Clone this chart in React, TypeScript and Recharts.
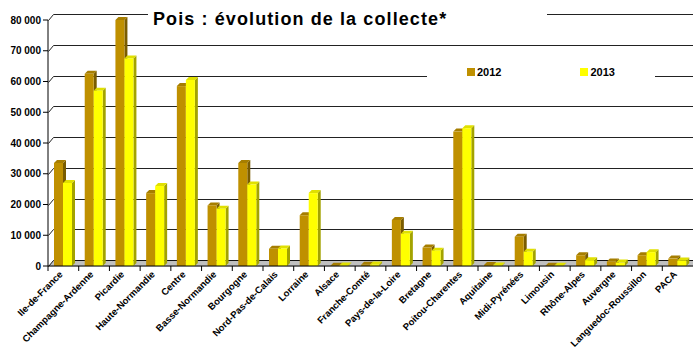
import React from "react";
import { Bar, BarChart, CartesianGrid, XAxis, YAxis } from "recharts";

const regions = [
  "Ile-de-France",
  "Champagne-Ardenne",
  "Picardie",
  "Haute-Normandie",
  "Centre",
  "Basse-Normandie",
  "Bourgogne",
  "Nord-Pas-de-Calais",
  "Lorraine",
  "Alsace",
  "Franche-Comté",
  "Pays-de-la-Loire",
  "Bretagne",
  "Poitou-Charentes",
  "Aquitaine",
  "Midi-Pyrénées",
  "Limousin",
  "Rhône-Alpes",
  "Auvergne",
  "Languedoc-Roussillon",
  "PACA",
];

const values2012 = [
  33500, 62500, 80000, 23700, 58500, 19700, 33500, 5600, 16500, 100, 400,
  15000, 6000, 43700, 300, 9500, 100, 3500, 1500, 3500, 2400,
];
const values2013 = [
  27000, 57000, 67500, 26000, 60500, 18600, 26500, 5700, 23700, 200, 500,
  10500, 5000, 44800, 200, 4600, 100, 1900, 1100, 4500, 1800,
];

const yTicks = [0, 10000, 20000, 30000, 40000, 50000, 60000, 70000, 80000];

const series = [
  { key: "y2012", name: "2012", front: "#BF9000", side: "#7A5C00", top: "#A67E00" },
  { key: "y2013", name: "2013", front: "#FFFF00", side: "#A3A300", top: "#E0E000" },
];

const data = regions.map((r, i) => ({
  region: r,
  y2012: values2012[i],
  y2013: values2013[i],
}));

const FONT = "'Liberation Sans', Arial, sans-serif";
const DX = 5;
const DY = 6;
const D = 3;

const fmt = (v: number) => String(v).replace(/\B(?=(\d{3})+(?!\d))/g, " ");

const makeShape = (s) => (props) => {
  const { x, y, width, height } = props;
  const h = Math.max(height, 0);
  return (
    <g>
      <polygon
        points={`${x + width},${y} ${x + width + D},${y - D} ${x + width + D},${y + h - D} ${x + width},${y + h}`}
        fill={s.side}
      />
      <polygon
        points={`${x},${y} ${x + D},${y - D} ${x + width + D},${y - D} ${x + width},${y}`}
        fill={s.top}
      />
      <rect x={x} y={y} width={width} height={h} fill={s.front} />
    </g>
  );
};

const gridLine = (props) => {
  const { x1, y1, x2, index } = props;
  const y = Math.round(y1) + 0.5;
  const x = Math.round(x1) + 0.5;
  if (Math.abs(y1 - 266) < 2) {
    return (
      <g key={`g-${index}`}>
        <polygon
          points={`${x},${y} ${x + DX},${y - DY} ${x2},${y - DY} ${x2},${y}`}
          fill="#C0C0C0"
        />
        <path
          d={`M${x},${y} L${x + DX},${y - DY} L${x2},${y - DY}`}
          stroke="#111"
          fill="none"
        />
      </g>
    );
  }
  return (
    <path
      key={`g-${index}`}
      d={`M${x},${y} L${x + DX},${y - DY} L${x2},${y - DY}`}
      stroke="#222"
      fill="none"
    />
  );
};

const XTick = (props) => {
  const { x, y, payload } = props;
  const half = 645 / 21 / 2;
  const ax = x;
  const ay = y + 1;
  return (
    <g>
      <line x1={x - half} y1={266} x2={x - half} y2={271} stroke="#000" />
      <text
        x={ax}
        y={ay}
        transform={`rotate(-45 ${ax} ${ay})`}
        textAnchor="end"
        fontFamily={FONT}
        fontSize={9.5}
        fontWeight="bold"
        fill="#000"
      >
        {payload.value}
      </text>
    </g>
  );
};

export default function App() {
  return (
    <div style={{ position: "absolute", left: 0, top: 0, width: 693, height: 353, background: "#fff" }}>
      <BarChart
        width={693}
        height={353}
        data={data}
        margin={{ top: 20, right: 0, left: 0, bottom: 0 }}
        barGap={0}
        barSize={9}
      >
        <CartesianGrid vertical={false} horizontal={gridLine} />
        <XAxis
          dataKey="region"
          interval={0}
          tickLine={false}
          axisLine={{ stroke: "#000" }}
          tick={<XTick />}
          height={87}
        />
        <YAxis
          width={48}
          domain={[0, 80000]}
          ticks={yTicks}
          tickFormatter={fmt}
          tickSize={5}
          tickLine={{ stroke: "#000" }}
          axisLine={{ stroke: "#000" }}
          tick={{ fontFamily: FONT, fontSize: 10, fontWeight: "bold", fill: "#000" }}
        />
        {series.map((s) => (
          <Bar
            key={s.key}
            dataKey={s.key}
            name={s.name}
            fill={s.front}
            shape={makeShape(s)}
            isAnimationActive={false}
          />
        ))}
      </BarChart>
      <div
        style={{
          position: "absolute",
          left: 148,
          top: 7,
          width: 399,
          height: 24,
          background: "#fff",
          fontFamily: FONT,
          fontSize: 18,
          fontWeight: "bold",
          letterSpacing: 1.1,
          lineHeight: "24px",
          paddingLeft: 5,
          boxSizing: "border-box",
          whiteSpace: "nowrap",
        }}
      >
        Pois : évolution de la collecte*
      </div>
      <div
        style={{
          position: "absolute",
          left: 427,
          top: 62,
          width: 228,
          height: 20,
          display: "flex",
          background: "#fff",
          alignItems: "center",
          fontFamily: FONT,
          fontSize: 11,
          fontWeight: "bold",
        }}
      >
        {series.map((s, i) => (
          <div
            key={s.key}
            style={{ display: "flex", alignItems: "center", marginLeft: i === 0 ? 40 : 79 }}
          >
            <span
              style={{
                width: 8,
                height: 8,
                background: s.front,
                display: "inline-block",
                marginRight: 2,
              }}
            />
            {s.name}
          </div>
        ))}
      </div>
    </div>
  );
}
